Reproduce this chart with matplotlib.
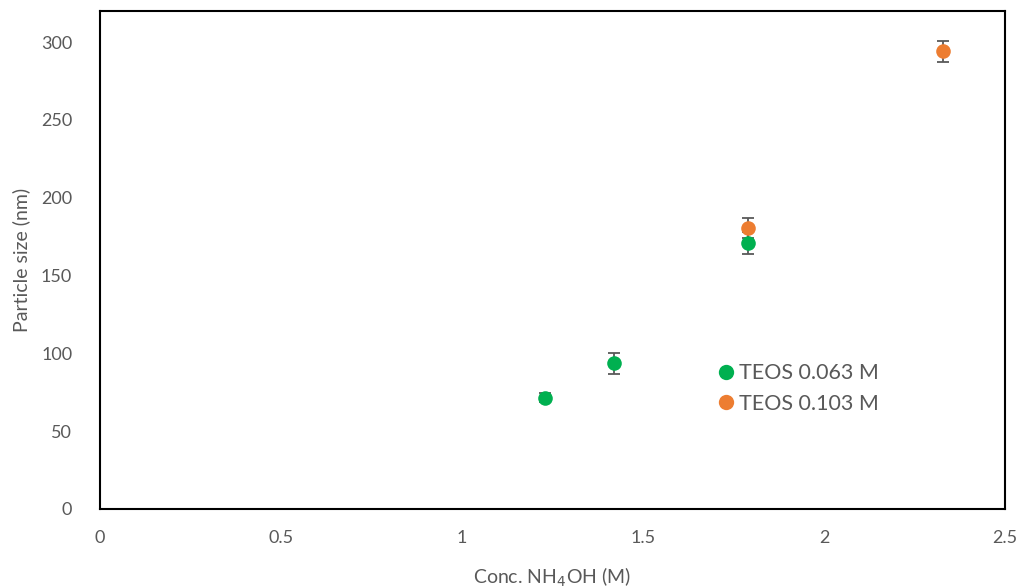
import numpy as np
import matplotlib
matplotlib.use('Agg')
import matplotlib.pyplot as plt

# TEOS 0.063 M
x_low = [1.23, 1.42, 1.79]
y_low = [71.5, 93.5, 171.0]
err_low = [3.0, 6.5, 7.0]

# TEOS 0.103 M
x_high = [1.79, 2.33]
y_high = [180.5, 294.0]
err_high = [6.5, 7.0]

labels = ['TEOS 0.063 M', 'TEOS 0.103 M']
colors = ['#00B050', '#ED7D31']
xticks = [0, 0.5, 1, 1.5, 2, 2.5]
yticks = [0, 50, 100, 150, 200, 250, 300]

plt.rcParams['font.family'] = ['Lato', 'DejaVu Sans']

fig = plt.figure(figsize=(10.21, 5.88), dpi=100)
ax = fig.add_axes([0.0979, 0.1344, 0.8864, 0.8469])

for xs, ys, es, c, lab in [(x_low, y_low, err_low, colors[0], labels[0]),
                           (x_high, y_high, err_high, colors[1], labels[1])]:
    ax.errorbar(xs, ys, yerr=es, fmt='none', ecolor='#595959',
                elinewidth=1.3, capsize=4.5, capthick=1.3, zorder=2)
    ax.plot(xs, ys, 'o', color=c, markersize=10.5, markeredgewidth=0,
            label=lab, zorder=3)

ax.set_xlim(0, 2.5)
ax.set_ylim(0, 320)
ax.set_xticks(xticks)
ax.set_xticklabels(['0', '0.5', '1', '1.5', '2', '2.5'])
ax.set_yticks(yticks)
ax.tick_params(length=0, labelsize=13, colors='#595959')
ax.tick_params(axis='x', pad=15)
ax.tick_params(axis='y', pad=20)

for s in ax.spines.values():
    s.set_color('black')
    s.set_linewidth(1.5)

ax.set_xlabel('Conc. NH$_4$OH (M)', fontsize=14, color='#595959', labelpad=14)
ax.set_ylabel('Particle size (nm)', fontsize=14, color='#595959', labelpad=8)

leg = ax.legend(loc='upper left', bbox_to_anchor=(0.669, 0.31), frameon=False,
                fontsize=15.5, handletextpad=0.05, labelspacing=0.5,
                handlelength=1.1, borderaxespad=0, markerscale=1.05)
for t in leg.get_texts():
    t.set_color('#595959')

fig.savefig('out.png', dpi=100)
